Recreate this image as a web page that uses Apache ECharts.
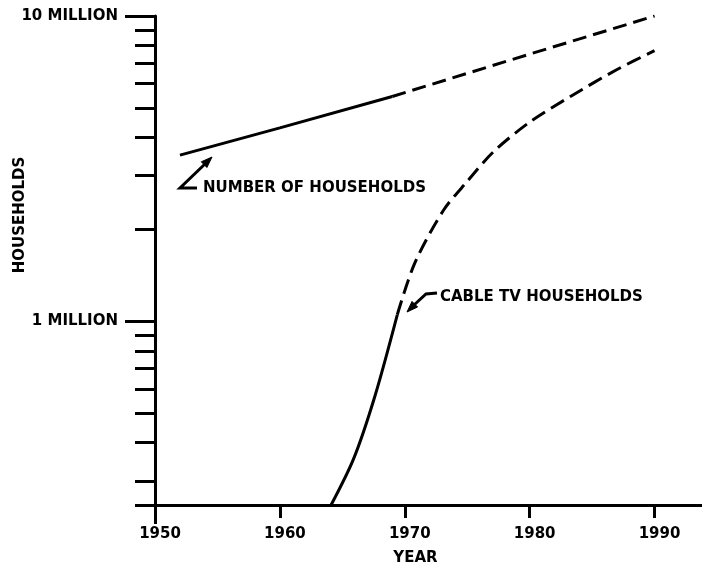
<!DOCTYPE html>
<html>
<head>
<meta charset="utf-8">
<script src="https://cdn.jsdelivr.net/npm/echarts@6/dist/echarts.min.js"></script>
<style>
  html, body { margin: 0; padding: 0; background: #fff; }
  #chart { width: 702px; height: 571px; }
</style>
</head>
<body>
<div id="chart"></div>
<script>
// households in millions, by year
var householdsSolid = [[1952, 3.5], [1960, 4.3], [1969, 5.45]];
var householdsDashed = [[1969, 5.45], [1980, 7.5], [1990, 10]];
var cableSolid = [[1964.1, 0.25], [1965.9, 0.354], [1967.6, 0.567], [1969.4, 1.05]];
var cableDashed = [[1969.4, 1.05], [1970.8, 1.55], [1973.1, 2.31], [1975.0, 2.87], [1977.1, 3.59], [1980.0, 4.49], [1983.3, 5.46], [1987.0, 6.68], [1990, 7.7]];

var yearTicks = [1950, 1960, 1970, 1980, 1990];
var yMinorTicks = [0.25, 0.3, 0.4, 0.5, 0.6, 0.7, 0.8, 0.9, 2, 3, 4, 5, 6, 7, 8, 9];
var yMajorTicks = [1, 10];
var yLabels = { 1: '1 MILLION', 10: '10 MILLION' };

var FONT = 'DejaVu Sans';
var ink = '#000';

var chart = echarts.init(document.getElementById('chart'));

chart.setOption({
  animation: false,
  backgroundColor: '#fff',
  grid: { left: 155, right: 0, top: 16, bottom: 62, containLabel: false },
  xAxis: [
    {
      type: 'value',
      min: 1950,
      max: 1993.8,
      interval: 10,
      axisLine: { lineStyle: { color: ink, width: 3 } },
      axisTick: { length: 13, lineStyle: { color: ink, width: 3 }, customValues: yearTicks },
      axisLabel: {
        customValues: yearTicks,
        margin: 22,
        color: ink,
        fontFamily: FONT,
        fontWeight: 'bold',
        fontSize: 15,
        padding: [0, 0, 0, 10],
        formatter: function (v) { return String(v); }
      },
      splitLine: { show: false },
      name: 'YEAR',
      nameLocation: 'middle',
      nameGap: 46,
      nameTextStyle: { color: ink, fontFamily: FONT, fontWeight: 'bold', fontSize: 15, padding: [0, 26, 0, 0] }
    },
    {
      type: 'value',
      min: 1950,
      max: 1993.8,
      position: 'bottom',
      axisLine: { show: false },
      axisTick: { length: 19, lineStyle: { color: ink, width: 3 }, customValues: [1950] },
      axisLabel: { show: false },
      splitLine: { show: false }
    }
  ],
  yAxis: [
    {
      type: 'log',
      logBase: 10,
      min: 0.25,
      max: 10,
      axisLine: { show: true, lineStyle: { color: ink, width: 3 } },
      axisTick: { show: true, length: 20, lineStyle: { color: ink, width: 3 }, customValues: yMinorTicks },
      axisLabel: {
        customValues: yMajorTicks,
        margin: 37,
        color: ink,
        fontFamily: FONT,
        fontWeight: 'bold',
        fontSize: 15,
        formatter: function (v) { return yLabels[Math.round(v)] || ''; }
      },
      splitLine: { show: false }
    },
    {
      type: 'log',
      logBase: 10,
      min: 0.25,
      max: 10,
      position: 'left',
      axisLine: { show: false },
      axisTick: { show: true, length: 30, lineStyle: { color: ink, width: 3 }, customValues: yMajorTicks },
      axisLabel: { show: false },
      splitLine: { show: false }
    }
  ],
  series: [
    {
      name: 'Number of households',
      type: 'line',
      data: householdsSolid,
      symbol: 'none',
      lineStyle: { color: ink, width: 3 }
    },
    {
      name: 'Number of households (projected)',
      type: 'line',
      data: householdsDashed,
      symbol: 'none',
      lineStyle: { color: ink, width: 3, type: [14, 7] }
    },
    {
      name: 'Cable TV households',
      type: 'line',
      data: cableSolid,
      smooth: 0.3,
      symbol: 'none',
      lineStyle: { color: ink, width: 3 }
    },
    {
      name: 'Cable TV households (projected)',
      type: 'line',
      data: cableDashed,
      smooth: 0.3,
      symbol: 'none',
      lineStyle: { color: ink, width: 3, type: [15, 7] }
    }
  ],
  graphic: [
    {
      type: 'text',
      x: 20, y: 215,
      rotation: Math.PI / 2,
      style: { text: 'HOUSEHOLDS', fill: ink, fontFamily: FONT, fontWeight: 'bold', fontSize: 15, align: 'center', verticalAlign: 'middle' }
    },
    {
      type: 'text',
      x: 203, y: 188,
      style: { text: 'NUMBER OF HOUSEHOLDS', fill: ink, fontFamily: FONT, fontWeight: 'bold', fontSize: 15, align: 'left', verticalAlign: 'middle' }
    },
    {
      type: 'polyline',
      shape: { points: [[197, 188], [180, 188], [206, 163]] },
      style: { stroke: ink, lineWidth: 3, fill: null }
    },
    {
      type: 'polygon',
      shape: { points: [[212, 157], [206.9, 167.5], [201.3, 161.8]] },
      style: { fill: ink, stroke: ink, lineWidth: 1 }
    },
    {
      type: 'text',
      x: 440, y: 297,
      style: { text: 'CABLE TV HOUSEHOLDS', fill: ink, fontFamily: FONT, fontWeight: 'bold', fontSize: 15, align: 'left', verticalAlign: 'middle' }
    },
    {
      type: 'polyline',
      shape: { points: [[437, 293], [426, 294], [414, 305]] },
      style: { stroke: ink, lineWidth: 3, fill: null }
    },
    {
      type: 'polygon',
      shape: { points: [[407, 312], [417.6, 307.0], [412.0, 301.4]] },
      style: { fill: ink, stroke: ink, lineWidth: 1 }
    }
  ]
});
</script>
</body>
</html>
